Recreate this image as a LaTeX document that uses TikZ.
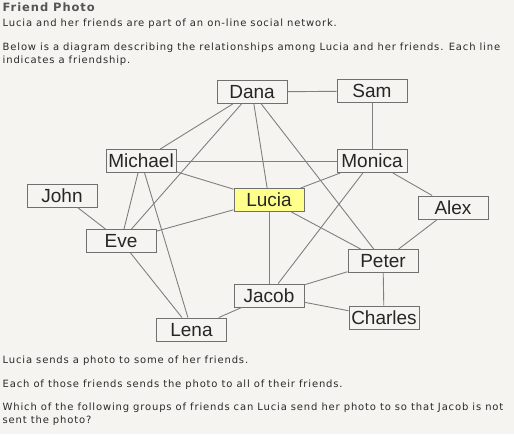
\documentclass[tikz,border=0pt]{standalone}
\usepackage{fontspec}
\setmainfont{Liberation Sans}
\newfontfamily\uifont[LetterSpace=8.4]{DejaVu Sans}
\newfontfamily\titlefont[LetterSpace=8]{DejaVu Sans}
\definecolor{bg}{HTML}{F5F4F0}
\definecolor{edgegray}{HTML}{808080}
\definecolor{boxgray}{HTML}{707070}
\definecolor{luciay}{HTML}{FFFF8C}
\definecolor{titlegray}{HTML}{555555}
\definecolor{bodytext}{HTML}{2A2A2A}
\tikzset{
  person/.style={draw=boxgray, line width=1pt, fill=bg, minimum width=70pt, minimum height=23pt,
    inner sep=0pt, text depth=0pt, font=\fontsize{19}{19}\selectfont, text=black!85},
  center/.style={person, fill=luciay},
  friend/.style={draw=edgegray, line width=0.9pt},
  para/.style={anchor=base west, inner sep=0pt, text=bodytext, font=\uifont\fontsize{10}{12}\selectfont},
  headline/.style={anchor=base west, inner sep=0pt, text=titlegray, font=\titlefont\bfseries\fontsize{11.5}{13}\selectfont}
}
\begin{document}
\begin{tikzpicture}[x=1pt,y=-1pt]
\useasboundingbox[fill=bg] (0,0) rectangle (514,434);
% text
\node[headline] (title) at (2.5,11) {Friend Photo};
\node[para] (t1) at (2.5,26) {Lucia and her friends are part of an on-line social network.};
\node[para] (t2) at (2.5,50) {Below is a diagram describing the relationships among Lucia and her friends. Each line};
\node[para] (t3) at (2.5,63) {indicates a friendship.};
\node[para] (b1) at (2.5,363) {Lucia sends a photo to some of her friends.};
\node[para] (b2) at (2.5,387) {Each of those friends sends the photo to all of their friends.};
\node[para] (b3) at (2.5,410.5) {Which of the following groups of friends can Lucia send her photo to so that Jacob is not};
\node[para] (b4) at (2.5,423) {sent the photo?};
% people
\node[person] (dana) at (252,92) {Dana};
\node[person] (sam) at (372,91) {Sam};
\node[person] (michael) at (141,161) {Michael};
\node[person] (monica) at (372,161) {Monica};
\node[center] (lucia) at (269,200) {Lucia};
\node[person] (john) at (62,195.5) {John};
\node[person] (alex) at (453,207.5) {Alex};
\node[person] (eve) at (121,241) {Eve};
\node[person] (peter) at (383,261) {Peter};
\node[person] (jacob) at (269,295.5) {Jacob};
\node[person] (charles) at (384,317.5) {Charles};
\node[person] (lena) at (191.5,329.5) {Lena};
% friendships
\draw[friend] (dana) -- (sam);
\draw[friend] (dana) -- (michael);
\draw[friend] (dana) -- (eve);
\draw[friend] (dana) -- (lucia);
\draw[friend] (dana) -- (peter);
\draw[friend] (sam) -- (monica);
\draw[friend] (michael) -- (monica);
\draw[friend] (michael) -- (lucia);
\draw[friend] (michael) -- (eve);
\draw[friend] (michael) -- (lena);
\draw[friend] (monica) -- (lucia);
\draw[friend] (monica) -- (jacob);
\draw[friend] (monica) -- (alex);
\draw[friend] (john) -- (eve);
\draw[friend] (eve) -- (lucia);
\draw[friend] (eve) -- (lena);
\draw[friend] (lucia) -- (jacob);
\draw[friend] (lucia) -- (peter);
\draw[friend] (alex) -- (peter);
\draw[friend] (peter) -- (jacob);
\draw[friend] (peter) -- (charles);
\draw[friend] (jacob) -- (charles);
\draw[friend] (jacob) -- (lena);
\end{tikzpicture}
\end{document}
